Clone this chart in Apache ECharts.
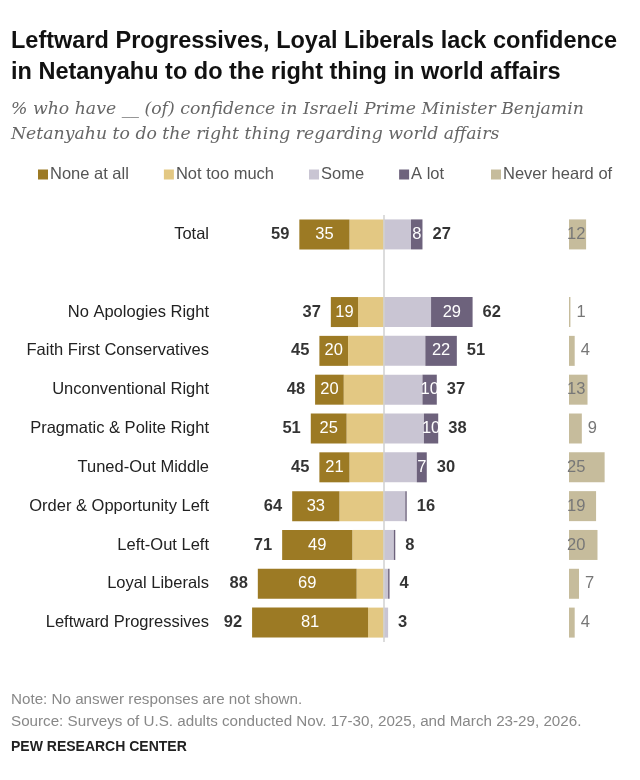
<!DOCTYPE html>
<html><head><meta charset="utf-8">
<script src="https://cdn.jsdelivr.net/npm/echarts@6/dist/echarts.min.js"></script>
<style>html,body{margin:0;padding:0;background:#fff}#c{width:640px;height:780px}</style>
</head><body><div id="c"></div>
<script>
const categories = ['Total','','No Apologies Right','Faith First Conservatives','Unconventional Right','Pragmatic & Polite Right','Tuned-Out Middle','Order & Opportunity Left','Left-Out Left','Loyal Liberals','Leftward Progressives'];
const noneAtAll = [35,null,19,20,20,25,21,33,49,69,81];
const notTooMuch = [24,null,18,25,28,26,24,31,22,19,11];
const some = [19,null,33,29,27,28,23,15,7,3,3];
const aLot = [8,null,29,22,10,10,7,1,1,1,0];
const neverHeard = [12,null,1,4,13,9,25,19,20,7,4];
const netNo = [59,null,37,45,48,51,45,64,71,88,92];
const netYes = [27,null,62,51,37,38,30,16,8,4,3];

const C = {none:'#9c7a24', ntm:'#e3c883', some:'#c9c5d3', alot:'#6d627c', never:'#c6bc9c'};
const chart = echarts.init(document.getElementById('c'));
const gTop = 215, gH = 427;
chart.setOption({
  animation:false,
  textStyle:{fontFamily:'Liberation Sans, Arial, sans-serif'},
  title:[
    {text:'Leftward Progressives, Loyal Liberals lack confidence\nin Netanyahu to do the right thing in world affairs',left:6,top:21,
     textStyle:{fontSize:23.5,fontWeight:'bold',color:'#111',lineHeight:31}},
    {text:'% who have __ (of) confidence in Israeli Prime Minister Benjamin\nNetanyahu to do the right thing regarding world affairs',left:6,top:92,
     textStyle:{fontSize:17.3,fontStyle:'italic',fontWeight:'normal',color:'#666',fontFamily:'DejaVu Serif, serif',lineHeight:25}},
    {text:'Note: No answer responses are not shown.\nSource: Surveys of U.S. adults conducted Nov. 17-30, 2025, and March 23-29, 2026.',left:6,top:684,
     textStyle:{fontSize:15.2,fontWeight:'normal',color:'#888',lineHeight:22}},
    {text:'PEW RESEARCH CENTER',left:6,top:735,textStyle:{fontSize:14,fontWeight:'bold',color:'#222'}}
  ],
  legend:[
    {data:['None at all','Not too much','Some','A lot'],left:33,top:161,itemWidth:10,itemHeight:10,itemGap:35,icon:'rect',
     textStyle:{fontSize:16.5,color:'#555',padding:[0,0,0,-3]}},
    {data:['Never heard of'],left:486,top:161,itemWidth:10,itemHeight:10,icon:'rect',textStyle:{fontSize:16.5,color:'#555',padding:[0,0,0,-3]}}
  ],
  grid:[
    {left:212,width:315,top:gTop,height:gH},
    {left:569,width:57,top:gTop,height:gH}
  ],
  xAxis:[
    {gridIndex:0,type:'value',min:-120,max:100,show:false},
    {gridIndex:1,type:'value',min:0,max:40,show:false}
  ],
  yAxis:[
    {gridIndex:0,type:'category',data:categories,inverse:true,axisLine:{show:false},axisTick:{show:false},
     axisLabel:{fontSize:16.5,color:'#222',margin:3}},
    {gridIndex:1,type:'category',data:categories,inverse:true,show:false}
  ],
  series:[
    {name:'Not too much',type:'bar',stack:'a',barWidth:30,data:notTooMuch.map(v=>v==null?null:-v),itemStyle:{color:C.ntm}},
    {name:'None at all',type:'bar',stack:'a',barWidth:30,data:noneAtAll.map(v=>v==null?null:-v),itemStyle:{color:C.none},
     label:{show:true,position:'inside',color:'#fff',fontSize:16.5,formatter:p=>-p.value}},
    {name:'Some',type:'bar',stack:'a',barWidth:30,data:some,itemStyle:{color:C.some}},
    {name:'A lot',type:'bar',stack:'a',barWidth:30,data:aLot,itemStyle:{color:C.alot},
     label:{show:true,position:'inside',color:'#fff',fontSize:16.5,formatter:p=>p.value>=7?p.value:''}},
    {type:'scatter',symbolSize:0,z:10,data:netNo.map((v,i)=>v==null?null:[-v,i]),silent:true,
     label:{show:true,position:'left',distance:10,fontSize:16.5,fontWeight:'bold',color:'#000',formatter:p=>-p.value[0]},
     markLine:{silent:true,symbol:'none',label:{show:false},lineStyle:{color:'#d0d0d0',type:'solid',width:1.5},data:[{xAxis:0}]}},
    {type:'scatter',symbolSize:0,data:netYes.map((v,i)=>v==null?null:[v,i]),silent:true,
     label:{show:true,position:'right',distance:10,fontSize:16.5,fontWeight:'bold',color:'#000',formatter:p=>p.value[0]}},
    {name:'Never heard of',type:'bar',xAxisIndex:1,yAxisIndex:1,barWidth:30,itemStyle:{color:C.never},
     data:neverHeard.map(v=>v==null?null:{value:v,label:{position:v<10?'right':'insideLeft',distance:v<10?6:0,padding:v<10?0:[0,0,0,-2]}}),
     label:{show:true,color:'#777',fontSize:16.5}}
  ]
});
</script></body></html>
